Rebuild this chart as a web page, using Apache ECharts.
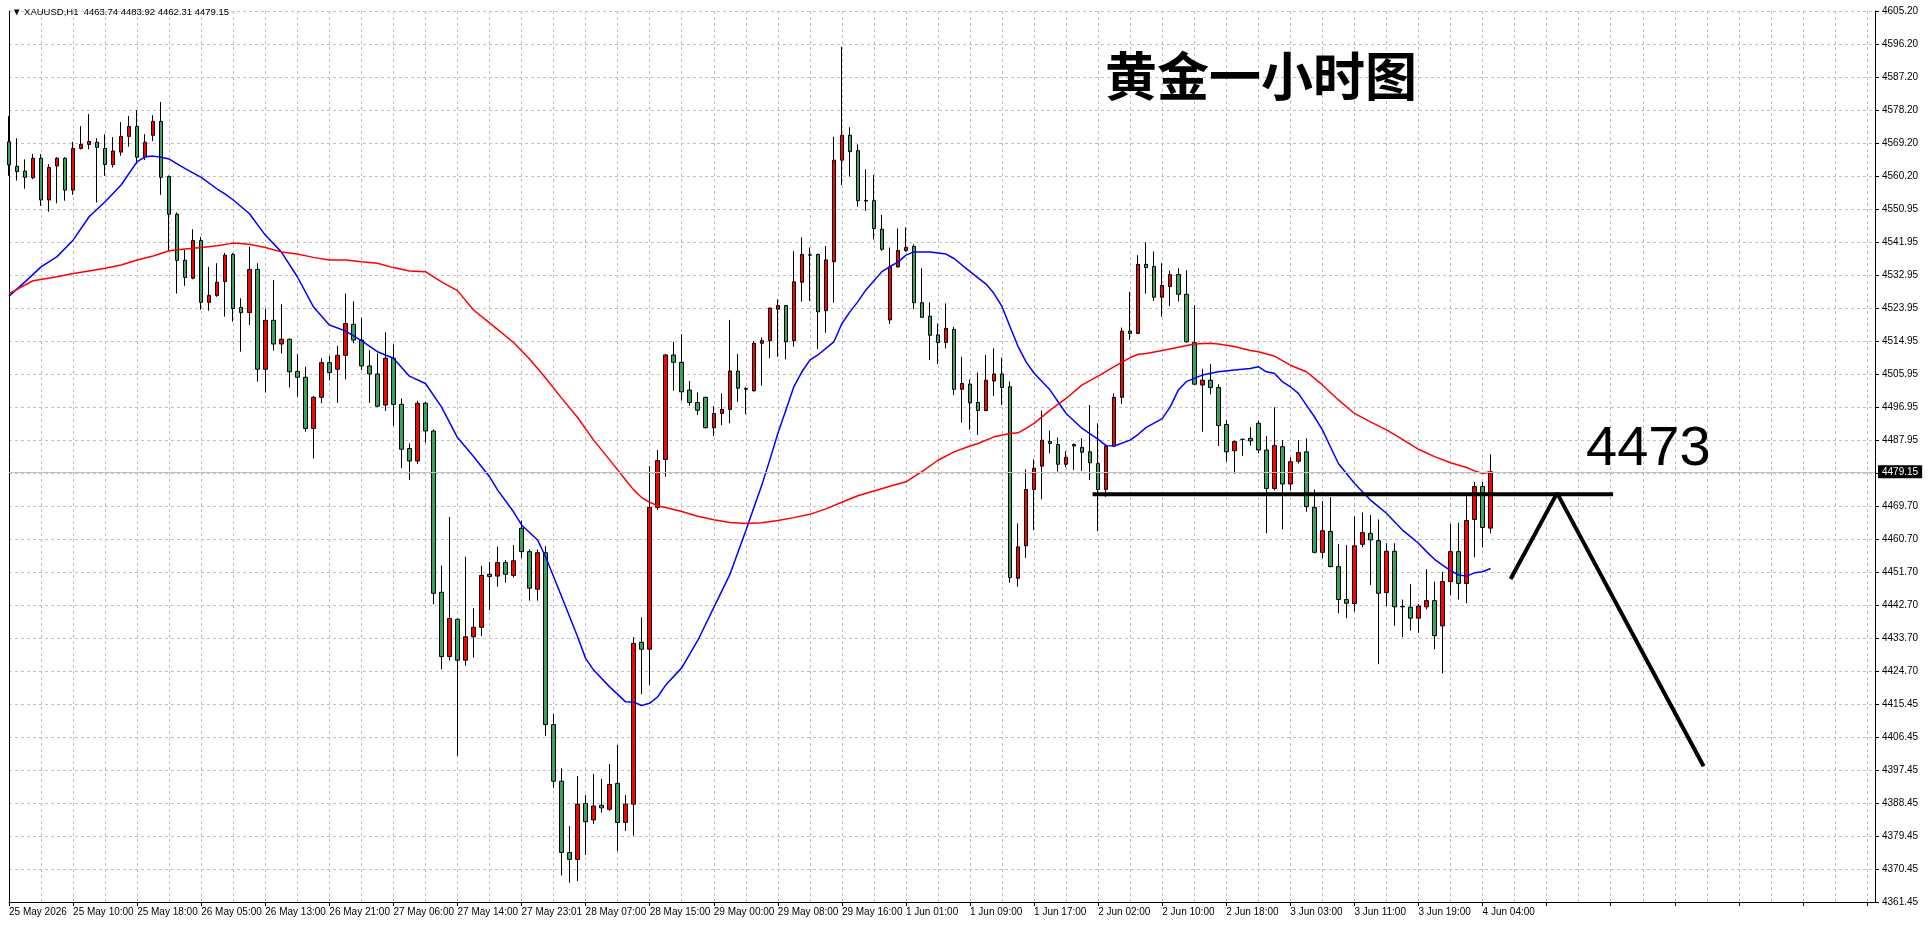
<!DOCTYPE html>
<html>
<head>
<meta charset="utf-8">
<title>XAUUSD H1</title>
<script src="https://cdn.jsdelivr.net/npm/echarts@6/dist/echarts.min.js"></script>
<style>
  html, body { margin: 0; padding: 0; background: #fff; }
  #chart { width: 1930px; height: 936px; }
</style>
</head>
<body>
<div id="chart"></div>
<script>
const symbolName = 'XAUUSD,H1'
const chartTitle = '黄金一小时图'
const levelText = '4473'

// x axis labels, one every 8 bars
const xLabels = ['25 May 2026', '25 May 10:00', '25 May 18:00', '26 May 05:00', '26 May 13:00', '26 May 21:00',
  '27 May 06:00', '27 May 14:00', '27 May 23:01', '28 May 07:00', '28 May 15:00', '29 May 00:00',
  '29 May 08:00', '29 May 16:00', '1 Jun 01:00', '1 Jun 09:00', '1 Jun 17:00', '2 Jun 02:00',
  '2 Jun 10:00', '2 Jun 18:00', '3 Jun 03:00', '3 Jun 11:00', '3 Jun 19:00', '4 Jun 04:00']

// price scale labels, bottom to top
const yTicks = ['4361.45', '4370.45', '4379.45', '4388.45', '4397.45', '4406.45', '4415.45',
  '4424.70', '4433.70', '4442.70', '4451.70', '4460.70', '4469.70', '4478.95',
  '4487.95', '4496.95', '4505.95', '4514.95', '4523.95', '4532.95', '4541.95',
  '4550.95', '4560.20', '4569.20', '4578.20', '4587.20', '4596.20', '4605.20']

// hourly bars: [open, high, low, close]
const ohlc = [
  [4569.4, 4576.5, 4560.1, 4563.1], [4562.7, 4570.4, 4558.8, 4561.3], [4561.4, 4564.6, 4556.6, 4559.7], [4559.6, 4566.1, 4559.2, 4564.9],
  [4564.9, 4566.1, 4551.9, 4553.5], [4553.5, 4563.3, 4550.3, 4562.4], [4562.8, 4565.2, 4552.6, 4564.9], [4564.9, 4565.2, 4553.3, 4556.2],
  [4556.2, 4569.4, 4554.9, 4567.6], [4567.6, 4573.7, 4567.3, 4568.7], [4568.7, 4577.0, 4567.4, 4569.5], [4569.3, 4570.4, 4552.8, 4567.9],
  [4567.6, 4571.5, 4560.1, 4563.2], [4563.2, 4570.7, 4562.4, 4566.9], [4566.6, 4574.8, 4565.6, 4570.9], [4570.9, 4576.5, 4568.1, 4573.6],
  [4573.6, 4578.1, 4563.3, 4565.2], [4565.2, 4571.5, 4564.4, 4569.3], [4571.2, 4576.7, 4569.6, 4575.0], [4575.0, 4580.3, 4554.9, 4559.7],
  [4559.9, 4560.2, 4539.5, 4549.6], [4549.6, 4550.1, 4527.9, 4537.0], [4537.0, 4539.8, 4530.0, 4532.3], [4532.1, 4545.5, 4531.8, 4542.4],
  [4542.4, 4543.4, 4523.5, 4525.5], [4525.5, 4535.2, 4523.2, 4527.4], [4527.4, 4536.2, 4527.0, 4531.0], [4531.2, 4539.0, 4521.6, 4538.4],
  [4538.6, 4539.0, 4520.2, 4523.8], [4524.1, 4526.6, 4512.0, 4522.7], [4522.7, 4540.7, 4519.3, 4534.5], [4534.5, 4536.2, 4503.8, 4507.2],
  [4507.2, 4523.8, 4500.8, 4520.6], [4520.6, 4531.6, 4512.3, 4514.1], [4514.1, 4525.0, 4511.5, 4515.4], [4515.4, 4515.6, 4502.2, 4506.5],
  [4506.6, 4511.3, 4499.7, 4505.0], [4505.0, 4507.9, 4490.1, 4491.0], [4491.0, 4499.9, 4482.8, 4499.5], [4499.5, 4510.2, 4497.9, 4509.0],
  [4509.0, 4510.8, 4504.1, 4506.3], [4507.2, 4513.6, 4498.0, 4511.0], [4511.0, 4527.9, 4504.4, 4519.7], [4519.5, 4525.8, 4514.3, 4515.2],
  [4515.2, 4521.3, 4507.0, 4508.1], [4508.1, 4512.4, 4498.0, 4505.9], [4505.9, 4511.5, 4496.8, 4497.1], [4497.4, 4517.3, 4495.8, 4510.2],
  [4510.2, 4514.0, 4491.7, 4497.6], [4497.6, 4499.2, 4480.1, 4485.3], [4485.5, 4486.9, 4476.9, 4482.1], [4482.1, 4498.6, 4481.3, 4497.9],
  [4497.9, 4498.3, 4487.1, 4490.3], [4490.3, 4490.7, 4442.9, 4445.9], [4446.2, 4453.5, 4425.1, 4428.6], [4428.6, 4466.8, 4427.5, 4439.0],
  [4438.8, 4439.0, 4401.4, 4427.6], [4427.6, 4455.9, 4426.1, 4434.0], [4434.0, 4441.8, 4428.3, 4436.6], [4436.6, 4453.4, 4434.2, 4450.8],
  [4451.1, 4454.5, 4441.3, 4450.5], [4450.6, 4458.7, 4447.7, 4454.3], [4454.3, 4455.0, 4448.8, 4451.1], [4450.8, 4459.1, 4450.2, 4454.8],
  [4463.7, 4465.8, 4455.5, 4457.3], [4457.3, 4457.9, 4443.9, 4447.3], [4447.0, 4457.9, 4443.9, 4457.0], [4457.0, 4458.8, 4406.9, 4410.0],
  [4410.0, 4412.9, 4392.7, 4394.5], [4394.5, 4398.0, 4368.7, 4375.0], [4375.0, 4382.2, 4366.7, 4373.1], [4373.1, 4395.9, 4367.2, 4388.2],
  [4388.4, 4390.7, 4374.3, 4383.4], [4383.9, 4396.5, 4382.8, 4387.7], [4387.9, 4395.1, 4385.9, 4387.2], [4386.8, 4399.2, 4386.4, 4393.6],
  [4393.9, 4404.4, 4375.4, 4383.2], [4383.2, 4390.7, 4380.9, 4388.2], [4388.2, 4433.9, 4379.6, 4432.2], [4432.5, 4439.3, 4418.3, 4430.6],
  [4430.6, 4480.7, 4420.8, 4469.4], [4469.4, 4485.1, 4468.7, 4482.2], [4482.5, 4511.3, 4477.8, 4511.1], [4511.1, 4514.7, 4501.3, 4509.1],
  [4509.1, 4516.8, 4498.6, 4501.0], [4501.5, 4504.0, 4497.2, 4498.1], [4498.1, 4500.9, 4494.7, 4496.0], [4499.5, 4499.7, 4491.0, 4491.2],
  [4491.2, 4497.1, 4488.9, 4495.1], [4495.1, 4500.6, 4491.9, 4496.2], [4496.2, 4520.7, 4492.4, 4506.7], [4506.7, 4511.4, 4498.3, 4502.0],
  [4501.9, 4502.3, 4494.9, 4501.7], [4501.3, 4514.9, 4501.1, 4514.3], [4514.3, 4515.9, 4502.7, 4515.0], [4515.0, 4524.1, 4510.2, 4523.9],
  [4523.6, 4526.3, 4510.6, 4524.6], [4524.6, 4524.8, 4509.9, 4514.7], [4515.0, 4539.5, 4513.4, 4531.1], [4531.0, 4543.3, 4525.7, 4538.6],
  [4538.5, 4540.5, 4525.9, 4538.4], [4538.6, 4538.8, 4512.7, 4522.9], [4523.2, 4540.9, 4517.2, 4537.1], [4536.6, 4570.8, 4525.4, 4564.4],
  [4564.4, 4595.4, 4557.6, 4571.2], [4571.2, 4573.4, 4559.9, 4566.7], [4567.0, 4568.7, 4551.7, 4553.3], [4553.4, 4561.9, 4550.5, 4553.2],
  [4553.3, 4560.3, 4542.7, 4545.7], [4545.5, 4549.4, 4539.6, 4540.0], [4520.7, 4540.5, 4519.6, 4535.2], [4535.2, 4545.7, 4535.0, 4539.7],
  [4539.7, 4546.0, 4539.3, 4540.5], [4540.8, 4541.4, 4523.7, 4525.4], [4525.4, 4534.8, 4521.3, 4521.4], [4521.7, 4525.5, 4509.7, 4516.5],
  [4516.6, 4519.7, 4508.6, 4514.5], [4514.5, 4525.2, 4512.9, 4518.4], [4518.1, 4518.8, 4500.1, 4501.7], [4501.7, 4510.6, 4492.6, 4503.3],
  [4503.1, 4504.4, 4490.7, 4498.0], [4498.1, 4506.3, 4489.2, 4495.9], [4495.9, 4511.1, 4495.7, 4504.2], [4504.0, 4512.9, 4499.9, 4505.9],
  [4505.9, 4510.4, 4497.4, 4502.2], [4502.4, 4503.8, 4448.8, 4450.2], [4450.0, 4465.0, 4447.7, 4458.6], [4458.9, 4479.8, 4455.6, 4474.3],
  [4474.3, 4482.5, 4463.2, 4480.1], [4480.7, 4495.9, 4471.6, 4487.8], [4487.4, 4490.4, 4484.2, 4486.9], [4486.6, 4488.5, 4479.2, 4481.2],
  [4481.2, 4484.8, 4480.4, 4483.1], [4486.6, 4486.9, 4479.6, 4486.2], [4485.8, 4488.3, 4479.4, 4484.5], [4484.6, 4497.4, 4476.9, 4481.6],
  [4481.4, 4492.4, 4462.9, 4474.3], [4474.3, 4486.7, 4472.3, 4486.2], [4486.2, 4500.6, 4485.9, 4499.5], [4499.5, 4518.6, 4497.7, 4517.6],
  [4517.6, 4528.4, 4515.2, 4517.0], [4517.0, 4538.4, 4516.8, 4535.9], [4535.9, 4541.9, 4527.9, 4535.0], [4535.3, 4539.4, 4525.9, 4526.9],
  [4526.9, 4536.2, 4521.6, 4530.1], [4529.8, 4534.2, 4524.5, 4533.1], [4533.1, 4534.8, 4525.7, 4527.7], [4527.7, 4534.3, 4514.5, 4514.7],
  [4514.5, 4524.7, 4503.0, 4503.1], [4502.9, 4507.3, 4490.1, 4504.2], [4504.2, 4508.6, 4500.3, 4502.2], [4502.2, 4503.1, 4486.2, 4491.8],
  [4492.1, 4493.3, 4481.9, 4484.6], [4484.9, 4487.7, 4478.7, 4487.4], [4488.0, 4488.3, 4483.5, 4488.0], [4488.3, 4491.3, 4486.3, 4487.6],
  [4492.4, 4493.1, 4484.2, 4485.1], [4485.1, 4488.9, 4462.3, 4474.6], [4474.6, 4496.8, 4474.1, 4486.3], [4486.0, 4487.8, 4463.4, 4475.8],
  [4475.8, 4483.1, 4474.0, 4481.9], [4482.0, 4487.8, 4481.4, 4484.4], [4484.6, 4488.3, 4468.2, 4469.6], [4469.4, 4474.3, 4456.8, 4457.1],
  [4457.1, 4471.1, 4455.5, 4463.0], [4462.8, 4472.2, 4453.0, 4453.2], [4453.2, 4459.4, 4440.4, 4444.2], [4444.2, 4459.1, 4439.1, 4443.2],
  [4443.1, 4467.0, 4440.9, 4458.9], [4459.3, 4468.0, 4458.5, 4462.5], [4462.3, 4467.3, 4448.2, 4460.5], [4460.3, 4466.1, 4426.5, 4445.9],
  [4446.1, 4459.6, 4442.4, 4457.4], [4457.4, 4459.6, 4437.0, 4442.2], [4442.3, 4444.2, 4433.9, 4442.2], [4442.1, 4448.4, 4435.7, 4439.1],
  [4439.1, 4443.0, 4435.1, 4442.4], [4442.2, 4452.5, 4441.5, 4443.9], [4443.9, 4449.1, 4430.6, 4434.3], [4437.0, 4451.8, 4424.0, 4449.1],
  [4449.1, 4464.9, 4445.4, 4457.3], [4457.3, 4465.2, 4444.2, 4448.6], [4448.6, 4472.8, 4443.2, 4465.8], [4466.1, 4476.4, 4455.7, 4475.1],
  [4475.1, 4476.4, 4458.5, 4463.9], [4463.74, 4483.92, 4462.31, 4479.15]
]

// fast moving average (blue), [bar, price]
const maFast = [
  [0, 4527.2], [2, 4531.1], [4, 4535.2], [6, 4538.0], [8, 4542.5], [10, 4548.9], [12, 4553.0], [14, 4557.6],
  [16, 4564.0], [17, 4565.3], [18, 4565.5], [19, 4565.2], [20, 4564.7], [22, 4562.1], [24, 4559.7], [26, 4556.5],
  [27, 4555.1], [28, 4553.5], [30, 4549.8], [32, 4543.9], [34, 4539.3], [36, 4532.5], [38, 4524.3], [40, 4519.3],
  [42, 4517.7], [44, 4515.0], [46, 4512.0], [48, 4510.2], [50, 4505.3], [52, 4503.3], [54, 4496.9], [56, 4488.5],
  [58, 4483.3], [60, 4477.8], [61, 4474.2], [63, 4468.2], [64, 4464.6], [66, 4460.5], [67, 4455.9], [69, 4445.0],
  [71, 4434.0], [72, 4428.1], [73, 4424.9], [75, 4420.3], [77, 4416.2], [78, 4416.1], [79, 4415.2], [80, 4415.8],
  [81, 4417.6], [82, 4420.8], [84, 4425.5], [86, 4433.0], [88, 4442.0], [90, 4451.0], [92, 4463.0], [94, 4475.5],
  [95, 4482.4], [96, 4489.6], [97, 4496.0], [98, 4502.4], [99, 4506.5], [100, 4509.7], [101, 4511.1], [102, 4512.9],
  [103, 4514.7], [104, 4519.7], [105, 4522.9], [106, 4525.7], [107, 4528.9], [108, 4531.4], [109, 4533.9], [110, 4535.3],
  [111, 4536.5], [112, 4538.4], [113, 4539.3], [115, 4539.3], [117, 4538.7], [118, 4537.5], [120, 4533.9], [122, 4530.5],
  [123, 4527.9], [124, 4524.3], [125, 4518.8], [126, 4513.4], [127, 4509.2], [128, 4506.1], [130, 4501.5], [132, 4495.1],
  [134, 4491.0], [136, 4488.0], [137, 4486.3], [138, 4486.2], [140, 4487.8], [141, 4489.4], [142, 4491.3], [144, 4493.7],
  [145, 4496.9], [146, 4501.5], [147, 4503.8], [149, 4505.6], [151, 4506.5], [153, 4507.0], [155, 4507.4], [156, 4507.9],
  [157, 4506.5], [158, 4506.1], [159, 4503.8], [160, 4502.4], [161, 4500.6], [162, 4497.4], [163, 4494.2], [164, 4490.6],
  [165, 4486.0], [166, 4481.4], [167, 4478.7], [168, 4476.0], [169, 4473.7], [170, 4471.4], [171, 4469.6], [172, 4467.8],
  [173, 4465.5], [174, 4463.2], [175, 4461.4], [176, 4459.6], [177, 4457.3], [178, 4455.2], [179, 4453.6], [180, 4452.1],
  [181, 4450.9], [182, 4450.6], [183, 4451.5], [184, 4451.8], [185, 4452.7]
]

// slow moving average (red), [bar, price]
const maSlow = [
  [0, 4527.9], [3, 4531.4], [6, 4532.5], [8, 4533.4], [10, 4534.1], [12, 4534.8], [14, 4535.7], [16, 4537.1],
  [18, 4538.2], [20, 4539.6], [22, 4540.1], [24, 4540.5], [26, 4541.0], [28, 4541.7], [30, 4541.4], [32, 4540.5],
  [34, 4539.3], [36, 4538.7], [38, 4537.8], [40, 4537.1], [42, 4537.1], [44, 4536.6], [46, 4536.2], [48, 4535.0],
  [50, 4534.1], [52, 4533.9], [54, 4531.1], [56, 4528.7], [58, 4523.4], [60, 4519.9], [61, 4518.1], [63, 4514.5],
  [65, 4510.0], [67, 4504.8], [69, 4499.3], [71, 4494.0], [73, 4487.8], [75, 4482.4], [77, 4476.9], [78, 4474.2],
  [79, 4472.1], [80, 4470.8], [81, 4469.8], [82, 4469.4], [84, 4468.3], [86, 4467.0], [88, 4466.0], [90, 4465.3],
  [92, 4465.0], [94, 4465.2], [96, 4465.8], [98, 4466.6], [100, 4467.5], [102, 4469.0], [104, 4470.8], [106, 4472.6],
  [108, 4473.9], [110, 4475.2], [111, 4475.8], [112, 4476.4], [114, 4479.2], [116, 4482.3], [118, 4484.6], [120, 4486.2],
  [121, 4486.9], [123, 4488.7], [125, 4489.6], [126, 4489.8], [127, 4491.0], [128, 4492.4], [130, 4496.0], [132, 4499.2],
  [134, 4502.9], [136, 4505.3], [138, 4507.9], [140, 4510.4], [141, 4511.3], [142, 4511.5], [144, 4512.3], [146, 4513.2],
  [148, 4514.1], [150, 4514.3], [151, 4514.1], [153, 4513.4], [155, 4512.3], [156, 4512.0], [158, 4510.8], [160, 4508.3],
  [162, 4506.5], [164, 4502.9], [166, 4498.8], [168, 4495.1], [170, 4492.8], [172, 4490.6], [174, 4488.0], [176, 4485.3],
  [178, 4483.3], [180, 4481.6], [182, 4480.3], [183, 4479.4], [184, 4478.7], [185, 4479.2]
]

// hand-drawn annotations, [bar, price]
const levelLine = [[135.3, 4473], [200.3, 4473]]
const zigzag = [[187.5, 4449.8], [193.3, 4473.3], [211.6, 4398.6]]

const slotCount = 234 // bars + empty space on the right
const fontFamily = 'Liberation Sans, Arial, sans-serif'
const gridColor = '#c0c0c0'

const last = ohlc[ohlc.length - 1]
const lastPrice = last[3]
const header = '\u25BC ' + symbolName + '  ' + last.map(v => v.toFixed(2)).join(' ')

const categories = []
for (let i = 0; i < slotCount; i++) categories.push(String(i))

// echarts wants [open, close, low, high]
const candleData = ohlc.map(r => [r[0], r[3], r[2], r[1]])

const chart = echarts.init(document.getElementById('chart'), null, { renderer: 'canvas' })

chart.setOption({
  animation: false,
  backgroundColor: '#fff',
  title: [
    {
      text: header, left: 12, top: 7, padding: 0,
      textStyle: { fontSize: 9.5, fontWeight: 'normal', fontFamily: fontFamily, color: '#000' }
    },
    {
      text: chartTitle, left: 1105, top: 50, padding: 0,
      textStyle: { fontSize: 52, fontWeight: 'bold', fontFamily: 'Noto Sans CJK SC', color: '#000' }
    },
    {
      text: levelText, left: 1586, top: 422, padding: 0,
      textStyle: { fontSize: 56, fontWeight: 'normal', fontFamily: fontFamily, color: '#000' }
    }
  ],
  grid: {
    left: 9,
    right: 55,
    top: 11,
    bottom: 34,
    containLabel: false,
    outerBoundsMode: 'none'
  },
  xAxis: [
    {
      type: 'category',
      data: categories,
      boundaryGap: false,
      axisLine: { onZero: false, lineStyle: { color: '#000', width: 1 } },
      axisTick: { interval: 7, length: 4, lineStyle: { color: '#000' } },
      axisLabel: {
        interval: 7,
        align: 'left',
        margin: 5,
        fontSize: 10,
        fontFamily: fontFamily,
        color: '#000',
        formatter: (v, idx) => (idx % 8 === 0 && xLabels[idx / 8]) || ''
      },
      splitLine: { show: true, interval: 3, lineStyle: { color: gridColor, type: [3, 3], width: 1 } }
    },
    {
      type: 'value',
      min: 0,
      max: slotCount - 1,
      show: false
    }
  ],
  yAxis: [
    {
      type: 'value',
      min: Number(yTicks[0]),
      max: Number(yTicks[yTicks.length - 1]),
      position: 'left',
      axisLine: { show: true, onZero: false, lineStyle: { color: '#000' } },
      axisTick: { show: false },
      axisLabel: { show: false },
      splitLine: { show: false }
    },
    {
      type: 'category',
      data: yTicks,
      boundaryGap: false,
      position: 'right',
      axisLine: { show: true, onZero: false, lineStyle: { color: '#000' } },
      axisTick: { show: true, interval: 0, length: 4, lineStyle: { color: '#000' } },
      axisLabel: { interval: 0, margin: 7, fontSize: 10, fontFamily: fontFamily, color: '#000' },
      splitLine: { show: true, interval: 0, lineStyle: { color: gridColor, type: [3, 3], width: 1 } }
    }
  ],
  series: [
    {
      name: 'XAUUSD',
      type: 'candlestick',
      xAxisIndex: 0,
      yAxisIndex: 0,
      data: candleData,
      barWidth: 4,
      itemStyle: {
        color: '#ff0000',
        color0: '#36a35f',
        borderColor: '#000',
        borderColor0: '#000',
        borderColorDoji: '#000',
        borderWidth: 1
      },
      markLine: {
        silent: true,
        symbol: ['none', 'none'],
        lineStyle: { color: gridColor, type: 'solid', width: 1 },
        label: {
          position: 'end',
          distance: 3,
          formatter: lastPrice.toFixed(2),
          color: '#fff',
          backgroundColor: '#000',
          padding: [2, 4, 1, 4],
          fontSize: 10,
          fontFamily: fontFamily
        },
        data: [{ yAxis: lastPrice }]
      },
      z: 2
    },
    {
      name: 'MA fast',
      type: 'line',
      xAxisIndex: 1,
      yAxisIndex: 0,
      data: maFast,
      showSymbol: false,
      lineStyle: { color: '#0000ff', width: 1.5 },
      z: 3
    },
    {
      name: 'MA slow',
      type: 'line',
      xAxisIndex: 1,
      yAxisIndex: 0,
      data: maSlow,
      showSymbol: false,
      lineStyle: { color: '#ff0000', width: 1.5 },
      z: 3
    },
    {
      name: 'level',
      type: 'line',
      xAxisIndex: 1,
      yAxisIndex: 0,
      data: levelLine,
      showSymbol: false,
      lineStyle: { color: '#000', width: 4 },
      z: 5
    },
    {
      name: 'path',
      type: 'line',
      xAxisIndex: 1,
      yAxisIndex: 0,
      data: zigzag,
      showSymbol: false,
      lineStyle: { color: '#000', width: 4 },
      z: 5
    }
  ]
})
</script>
</body>
</html>
